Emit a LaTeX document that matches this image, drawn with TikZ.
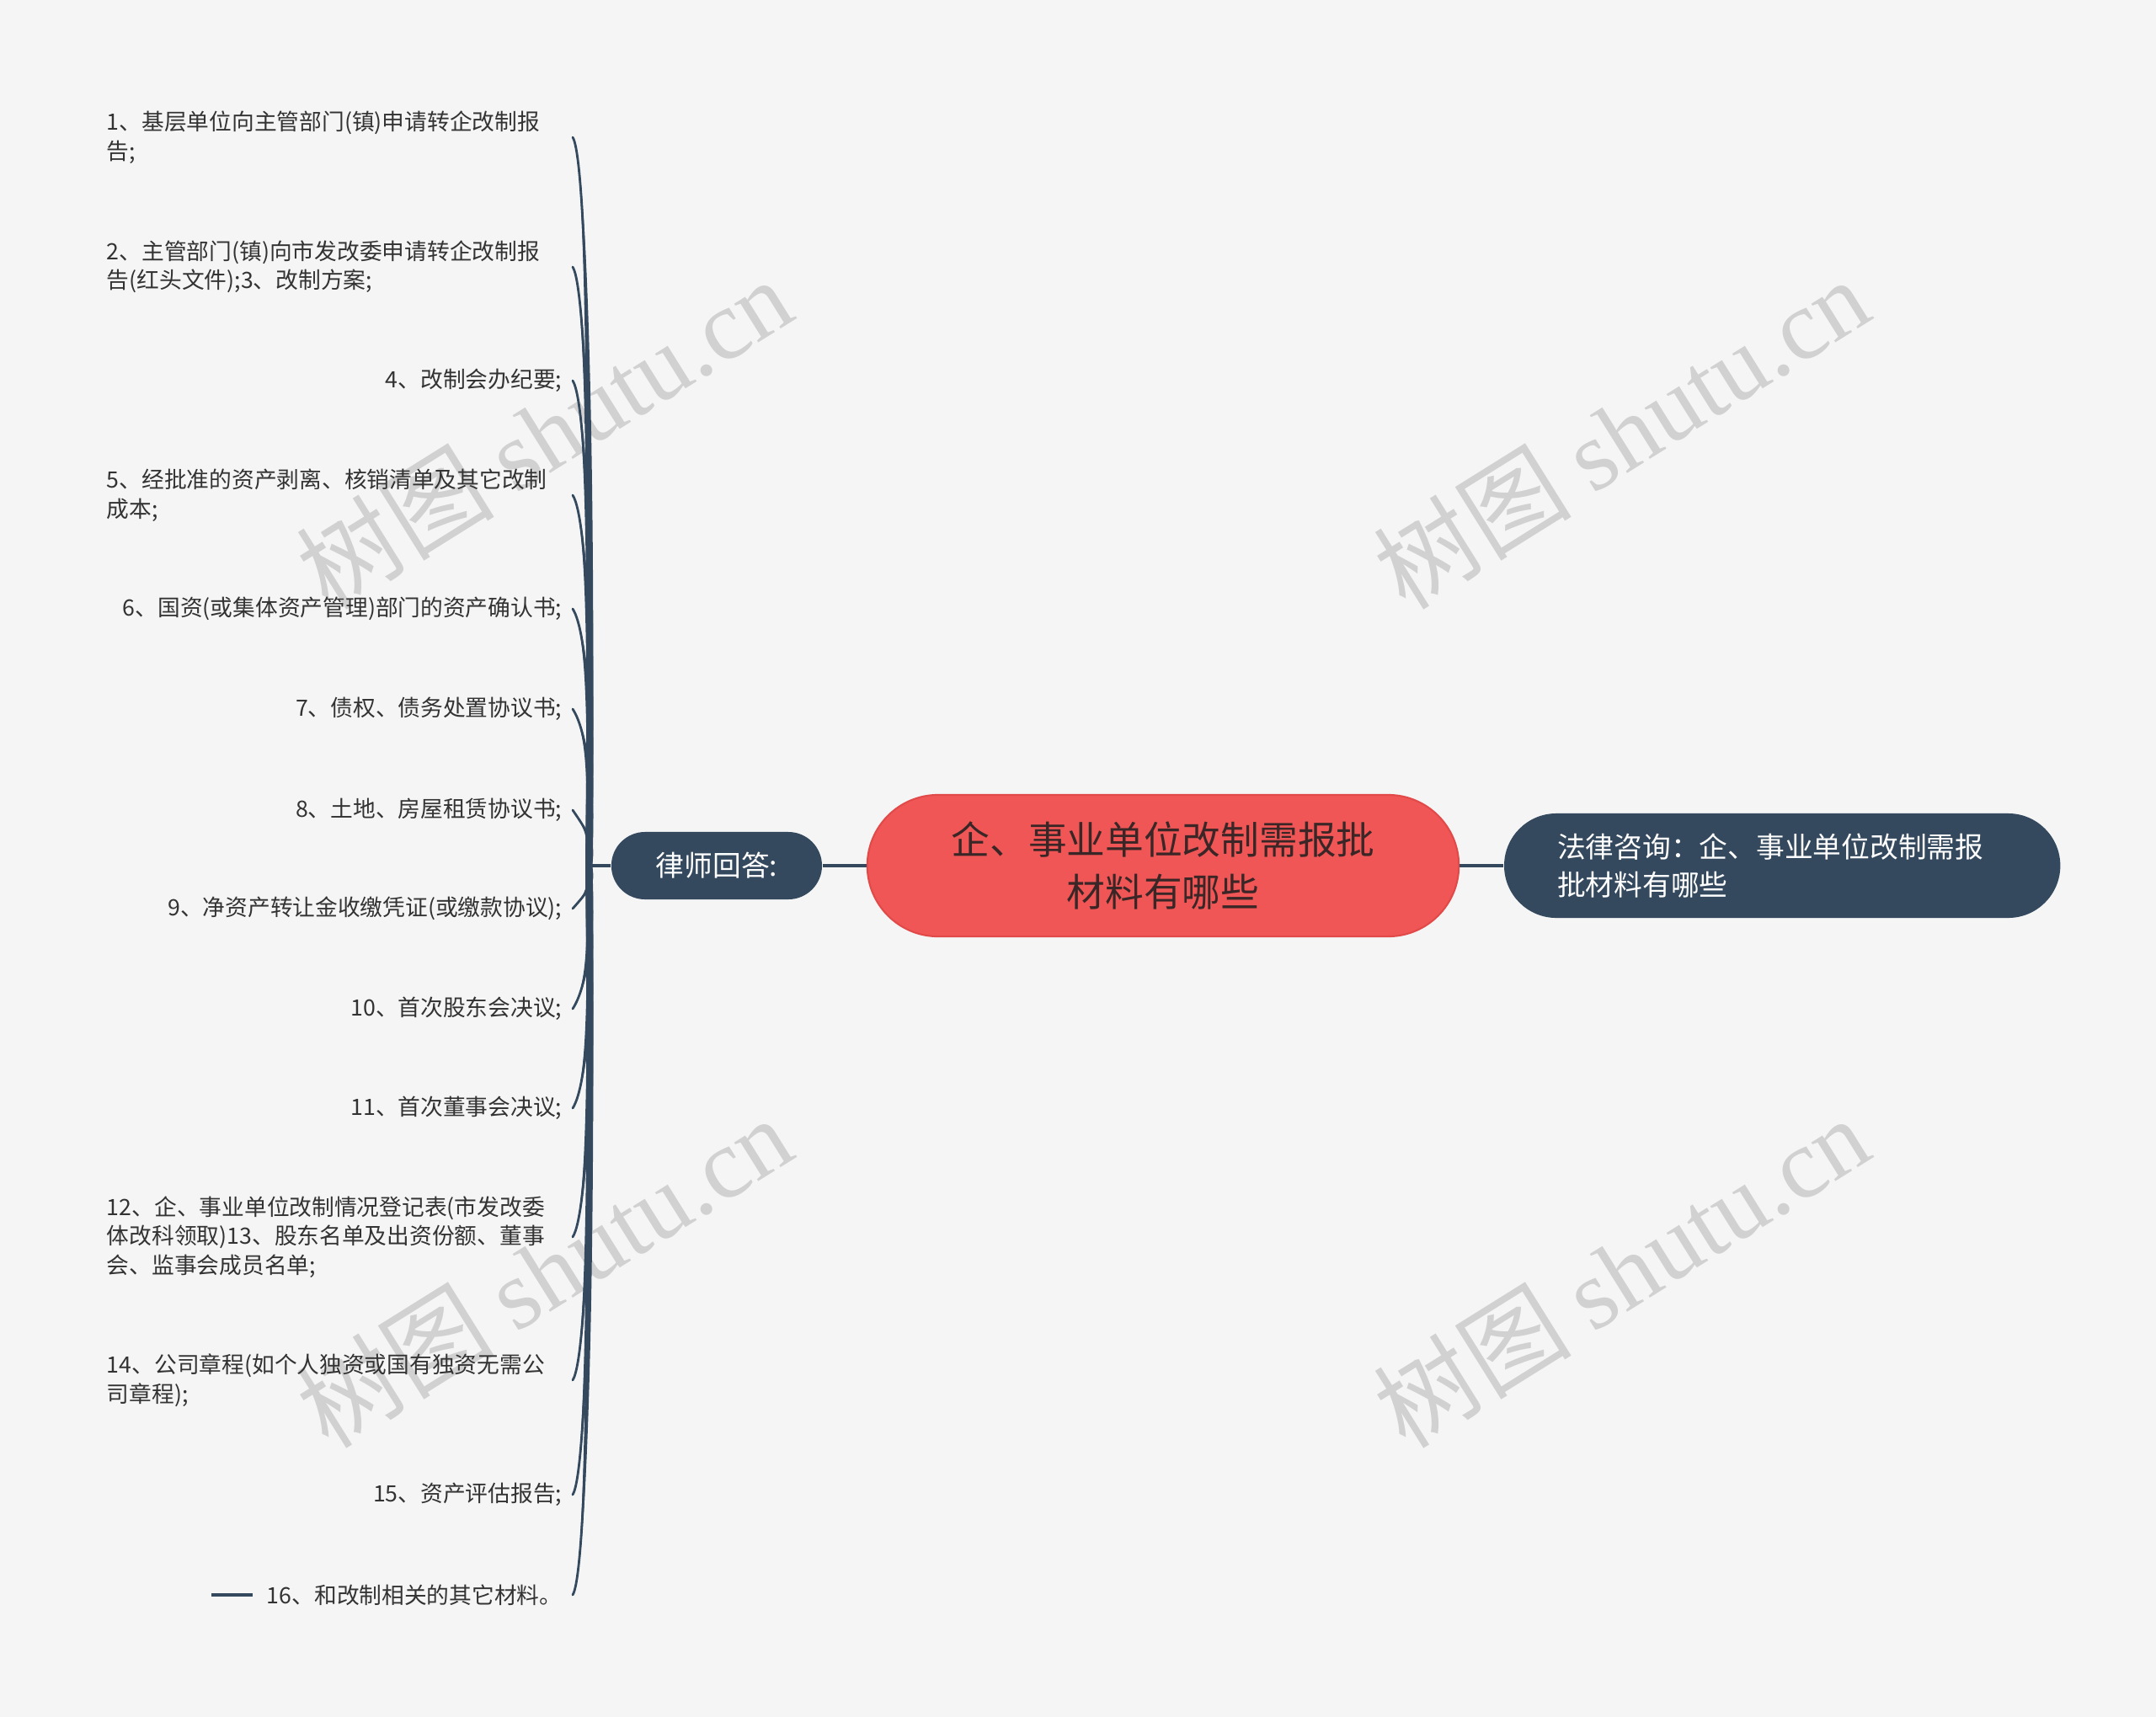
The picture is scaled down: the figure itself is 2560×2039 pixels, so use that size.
\documentclass[tikz,border=0pt]{standalone}
\usepackage{fontspec}
\newfontfamily\cjk{Noto Sans CJK SC}
\newfontfamily\wmfont{Liberation Serif}
\usetikzlibrary{positioning, calc}
\definecolor{clrbg}{HTML}{F5F5F5}
\definecolor{clrnavy}{HTML}{34495E}
\definecolor{clrroot}{HTML}{F05656}
\definecolor{clrrootborder}{HTML}{E24A4A}
\definecolor{clrroottext}{HTML}{3A2626}
\definecolor{clrleaf}{HTML}{333333}
\definecolor{clrmark}{HTML}{C8C8C8}

\begin{document}
\begin{tikzpicture}[
    x=0.01cm, y=-0.01cm,
    every node/.style={font=\cjk},
    rootbox/.style={draw=clrrootborder, fill=clrroot, line width=0.6pt, rounded corners=0.84cm,
                    minimum width=7.02cm, minimum height=1.68cm, align=center,
                    font=\cjk\fontsize{13}{17.4}\selectfont, text=clrroottext},
    sidebox/.style={fill=clrnavy, font=\cjk\fontsize{9.6}{13}\selectfont, text=white},
    leaf/.style={font=\cjk\fontsize{7.6}{9.8}\selectfont, text=clrleaf, inner sep=0pt, anchor=east},
    leafwide/.style={leaf, text width=5.4cm, align=left},
    link/.style={draw=clrnavy, line width=1pt},
    twig/.style={fill=clrnavy},
    twigline/.style={draw=clrnavy, line width=0.8pt, line cap=round},
    watermark/.style={font=\cjk\fontsize{33.5}{38}\selectfont, text=clrmark, rotate=32, opacity=0.8},
]
\fill[clrbg] (0,0) rectangle (2560,2039);
\useasboundingbox (0,0) rectangle (2560,2039);
% watermarks
\node[watermark] (w_1) at (646,514) {树图 {\wmfont shutu.cn}};
\node[watermark] (w_2) at (1925,514) {树图 {\wmfont shutu.cn}};
\node[watermark] (w_3) at (646,1510) {树图 {\wmfont shutu.cn}};
\node[watermark] (w_4) at (1925,1510) {树图 {\wmfont shutu.cn}};
% main nodes
\node[rootbox] (n_main) at (1381,1028) {企、事业单位改制需报批\\材料有哪些};
\node[sidebox, minimum width=2.5cm, minimum height=0.8cm, rounded corners=0.4cm, left=0.52cm of n_main] (n_answer) {律师回答:};
\node[sidebox, inner xsep=0.63cm, minimum height=1.24cm, rounded corners=0.62cm, text width=5.34cm, align=left, right=0.52cm of n_main] (n_consult) {法律咨询：企、事业单位改制需报\\批材料有哪些};
\coordinate (root) at ([xshift=-0.26cm]n_answer.west);
% leaves
\node[leafwide] (l1) at (668,163) {1、基层单位向主管部门(镇)申请转企改制报\\告;};
\node[leafwide] (l2) at (668,317) {2、主管部门(镇)向市发改委申请转企改制报\\告(红头文件);3、改制方案;};
\node[leaf] (l4) at (668,452) {4、改制会办纪要;};
\node[leafwide] (l5) at (668,588) {5、经批准的资产剥离、核销清单及其它改制\\成本;};
\node[leaf] (l6) at (668,723) {6、国资(或集体资产管理)部门的资产确认书;};
\node[leaf] (l7) at (668,842) {7、债权、债务处置协议书;};
\node[leaf] (l8) at (668,962) {8、土地、房屋租赁协议书;};
\node[leaf] (l9) at (668,1079) {9、净资产转让金收缴凭证(或缴款协议);};
\node[leaf] (l10) at (668,1198) {10、首次股东会决议;};
\node[leaf] (l11) at (668,1316) {11、首次董事会决议;};
\node[leafwide] (l12) at (668,1469) {12、企、事业单位改制情况登记表(市发改委\\体改科领取)13、股东名单及出资份额、董事\\会、监事会成员名单;};
\node[leafwide] (l14) at (668,1639) {14、公司章程(如个人独资或国有独资无需公\\司章程);};
\node[leaf] (l15) at (668,1775) {15、资产评估报告;};
\node[leaf] (l16) at (668,1894) {16、和改制相关的其它材料。};
% connectors
\draw[link] (n_answer.west) -- (root);
\draw[link] (n_answer.east) -- (n_main.west);
\draw[link] (n_main.east) -- (n_consult.west);
\draw[link] ([xshift=-0.16cm]l16.west) -- ++(-49,0);
\foreach \i/\yy in {1/163, 2/317, 4/452, 5/588, 6/723, 7/842, 8/962, 9/1079,
                    10/1198, 11/1316, 12/1469, 14/1639, 15/1775, 16/1894} {
  \coordinate (e\i) at ([xshift=0.12cm]l\i.east);
  \pgfmathsetmacro\hk{max(-28,min(28,(1028-\yy)*0.4))}
  \fill[twig] ([xshift=-1.1pt]root) .. controls +(3,{(\yy-1028)*0.5}) and +(17,\hk) .. (e\i)
              .. controls +(19,\hk) and +(5,{(\yy-1028)*0.5}) .. ([xshift=1.1pt]root) -- cycle;
  \draw[twigline] (root) .. controls +(4,{(\yy-1028)*0.5}) and +(18,\hk) .. (e\i);
}
\end{tikzpicture}
\end{document}
